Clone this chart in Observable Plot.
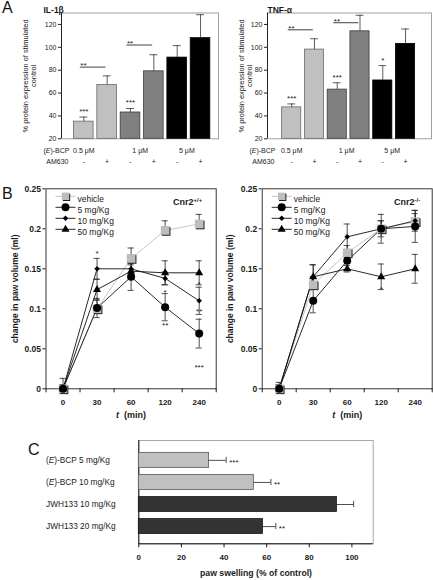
<!DOCTYPE html>
<html><head><meta charset="utf-8">
<script src="https://cdn.jsdelivr.net/npm/d3@7"></script>
<script src="https://cdn.jsdelivr.net/npm/@observablehq/plot@0.6"></script>
<style>
body{margin:0;background:#fff;}
#fig{position:relative;width:433px;height:580px;font-family:'Liberation Sans',Arial,Helvetica,sans-serif;overflow:hidden;background:#fff;}
.pl{position:absolute;}
.pl svg{overflow:visible;display:block;}
.tag{position:absolute;font-size:16px;line-height:1;color:#111;}
</style></head><body>
<div id="fig">
  <div class="pl" id="a1" style="left:0;top:0"></div>
  <div class="pl" id="a2" style="left:220px;top:0"></div>
  <div class="pl" id="b1" style="left:0;top:180px"></div>
  <div class="pl" id="b2" style="left:215px;top:180px"></div>
  <div class="pl" id="c1" style="left:0;top:430px"></div>
  <div class="tag" style="left:2px;top:0px">A</div>
  <div class="tag" style="left:2px;top:186px">B</div>
  <div class="tag" style="left:28px;top:442px">C</div>
</div>
<script>
// ---------- DATA ----------
// Panel A
const concLabels = ["0.5 μM", "1 μM", "5 μM"];
const am630Labels = ["-", "+", "-", "+", "-", "+"];
const aTicks = [20, 40, 60, 80, 100, 120];
const aYLabelLines = ["% protein expression of stimulated", "control"];
const il1bMean = [35, 67, 43, 79, 91, 108];
const il1bErr = [4, 8, 3.5, 14.5, 10.5, 20.5];
const il1bStars = ["***", "", "***", "", "", ""];
const il1bSigLevel = [82.7, 102];
const tnfMean = [47.5, 98, 63, 114, 71, 103];
const tnfErr = [3, 9.5, 6, 14, 13, 13];
const tnfStars = ["***", "", "***", "", "*", ""];
const tnfSigLevel = [115.3, 121.5];
const sigFrom = [0, 2];
const sigTo = [1, 3];
const sigLabels = ["**", "**"];

// Panel B
const times = ["0", "30", "60", "120", "240"];
const doseNames = ["vehicle", "5 mg/Kg", "10 mg/Kg", "50 mg/Kg"];
const bTicks = [0, 0.05, 0.1, 0.15, 0.2, 0.25];
const bYLabel = "change in paw volume (ml)";
const wtVehicle = [0, 0.100, 0.163, 0.198, 0.206];
const wtVehicleErr = [0.013, 0.011, 0.013, 0.012, 0.012];
const wt5 = [0, 0.101, 0.140, 0.102, 0.069];
const wt5Err = [0.005, 0.012, 0.017, 0.017, 0.018];
const wt10 = [0, 0.150, 0.150, 0.138, 0.110];
const wt10Err = [0.005, 0.013, 0.008, 0.008, 0.017];
const wt50 = [0, 0.124, 0.147, 0.145, 0.145];
const wt50Err = [0.005, 0.013, 0.008, 0.015, 0.015];
const wtStarTimes = ["30", "120", "120", "240", "240", "240"];
const wtStarLevels = [0.172, 0.123, 0.082, 0.1325, 0.099, 0.029];
const wtStarText = ["*", "*", "**", "*", "**", "***"];
const koVehicle = [0, 0.130, 0.170, 0.200, 0.209];
const koVehicleErr = [0.008, 0.010, 0.009, 0.010, 0.010];
const ko5 = [0, 0.110, 0.160, 0.200, 0.203];
const ko5Err = [0.005, 0.015, 0.012, 0.018, 0.020];
const ko10 = [0, 0.140, 0.190, 0.200, 0.210];
const ko10Err = [0.005, 0.015, 0.016, 0.010, 0.013];
const ko50 = [0, 0.140, 0.150, 0.140, 0.150];
const ko50Err = [0.005, 0.015, 0.004, 0.016, 0.018];
const koStarTimes = ["120"];
const koStarLevels = [0.127];
const koStarText = ["*"];

// Panel C
const cLabels = ["(E)-BCP 5 mg/Kg", "(E)-BCP 10 mg/Kg", "JWH133 10 mg/Kg", "JWH133 20 mg/Kg"];
const cMean = [33, 54, 93, 58.3];
const cErr = [8, 8, 7.8, 6];
const cStars = ["***", "**", "", "**"];
const cTicks = [0, 20, 40, 60, 80, 100];
const cXLabel = "paw swelling (% of control)";

// ---------- STYLE ----------
const FONT = "'Liberation Sans', Arial, Helvetica, sans-serif";
const aFill = ["#c0c0c0", "#808080", "#000000"];
const aStroke = ["#6a6a6a", "#3c3c3c", "#000000"];
const bStyle = [
  {symbol: "square", r: 4.9, fill: "#bdbdbd", line: "#c6c6c6", lw: 1},
  {symbol: "circle", r: 4, fill: "#000", line: "#111", lw: 0.9},
  {symbol: "diamond2", r: 2.5, fill: "#000", line: "#111", lw: 0.9},
  {symbol: "triangle", r: 3, fill: "#000", line: "#111", lw: 0.9}
];
const legendLine = {draw(ctx) { ctx.moveTo(-10, 0); ctx.lineTo(10, 0); }};

function baseStyle(size) {
  return {fontFamily: FONT, fontSize: size, color: "#1a1a1a", background: "transparent", overflow: "visible"};
}

// ---------- PANEL A ----------
function panelA({title, mean, err, stars, sigLevel, width, marginLeft, xDomain, titleDx, yLabelDx}) {
  const bars = mean.map((m, i) => ({i, m, e: err[i], s: stars[i], am: am630Labels[i], g: Math.floor(i / 2)}));
  const conc = concLabels.map((c, g) => ({c, g, x: d3.mean(bars.filter(b => b.g === g), b => b.i), first: d3.min(bars.filter(b => b.g === g), b => b.i)}));
  const sig = sigLevel.map((y, k) => ({y, from: sigFrom[k], to: sigTo[k], label: sigLabels[k]}));
  return Plot.plot({
    width, height: 170, marginLeft, marginRight: 2, marginTop: 12.5, marginBottom: 31.7,
    style: baseStyle("7px"),
    x: {domain: xDomain, axis: null},
    y: {domain: [20, 130]},
    marks: [
      Plot.frame({stroke: "#a0a0a0", strokeWidth: 1}),
      Plot.ruleX([xDomain[0]], {stroke: "#222", strokeWidth: 1}),
      Plot.axisY({ticks: aTicks, tickSize: 3, tickPadding: 2, label: null, stroke: "#222"}),
      Plot.rectY(bars, {x1: d => d.i - 0.42, x2: d => d.i + 0.42, y1: 20, y2: "m", fill: d => aFill[d.g], stroke: d => aStroke[d.g], strokeWidth: 0.8}),
      Plot.ruleX(bars, {x: "i", y1: "m", y2: d => d.m + d.e, stroke: "#333", strokeWidth: 0.8}),
      Plot.ruleY(bars, {x1: d => d.i - 0.17, x2: d => d.i + 0.17, y: d => d.m + d.e, stroke: "#333", strokeWidth: 0.8}),
      Plot.text(bars.filter(d => d.s), {x: "i", y: d => d.m + d.e, text: "s", lineAnchor: "bottom", dy: -3, fontSize: 8}),
      Plot.ruleY(sig, {x1: d => d.from - 0.15, x2: d => d.to - 0.05, y: "y", stroke: "#111", strokeWidth: 0.8}),
      Plot.text(sig, {x: d => d.from - 0.15, y: "y", text: "label", textAnchor: "start", lineAnchor: "bottom", dy: 1, fontSize: 8}),
      Plot.text(bars, {x: "i", text: "am", frameAnchor: "bottom", dy: 25}),
      Plot.text(conc.filter(d => d.g === 0), {x: "first", text: "c", frameAnchor: "bottom", dy: 14}),
      Plot.text(conc.filter(d => d.g > 0), {x: "x", text: "c", frameAnchor: "bottom", dy: 14, dx: -2}),
      Plot.text(["(E)-BCP"], {text: d => d, frameAnchor: "bottom-left", textAnchor: "end", dx: 8, dy: 14}),
      Plot.text(["AM630"], {text: d => d, frameAnchor: "bottom-left", textAnchor: "end", dx: 7, dy: 25}),
      Plot.text([title], {text: d => d, frameAnchor: "top-left", textAnchor: "start", dx: titleDx, dy: -6, fontWeight: "bold", fontSize: 8.5}),
      Plot.text([aYLabelLines[0]], {text: d => d, frameAnchor: "left", textAnchor: "middle", rotate: -90, dx: yLabelDx, fontSize: 7.4}),
      Plot.text([aYLabelLines[1]], {text: d => d, frameAnchor: "left", textAnchor: "middle", rotate: -90, dx: yLabelDx + 8.3, fontSize: 7.4})
    ]
  });
}

// ---------- PANEL B ----------
function panelB({means, errs, starTimes, starLevels, starText, tag, width, marginLeft, marginRight, yLabelDx, tagDx}) {
  const rows = [];
  doseNames.forEach((name, s) => times.forEach((t, k) => rows.push({s, name, t, k, v: means[s][k], e: errs[s][k]})));
  const stars = starTimes.map((t, j) => ({k: times.indexOf(t), v: starLevels[j], s: starText[j]}));
  const marks = [
    Plot.frame({stroke: "#222", strokeWidth: 0.9}),
    Plot.axisY({ticks: bTicks, tickFormat: d => String(d), tickSize: 3, tickPadding: 2, fontWeight: "bold", fontSize: 8.5, label: null}),
    Plot.axisX({ticks: times.map((t, k) => k), tickFormat: k => times[k], tickSize: 0, tickPadding: 11, fontWeight: "bold", fontSize: 8, label: null}),
    Plot.axisX({ticks: d3.range(times.length + 1).map(k => k - 0.5), tickFormat: () => "", tickSize: 4, label: null})
  ];
  doseNames.forEach((name, s) => {
    marks.push(Plot.line(rows.filter(r => r.s === s), {x: "k", y: "v", stroke: bStyle[s].line, strokeWidth: bStyle[s].lw}));
  });
  marks.push(
    Plot.ruleX(rows, {x: "k", y1: d => d.s === 0 ? d.v : Math.max(0, d.v - d.e), y2: d => d.v + d.e, stroke: "#222", strokeWidth: 0.8}),
    Plot.ruleY(rows, {x1: d => d.k - 0.09, x2: d => d.k + 0.09, y: d => d.v + d.e, stroke: "#222", strokeWidth: 0.8}),
    Plot.ruleY(rows.filter(d => d.s > 0 && d.v - d.e > 0), {x1: d => d.k - 0.09, x2: d => d.k + 0.09, y: d => d.v - d.e, stroke: "#222", strokeWidth: 0.8})
  );
  doseNames.forEach((name, s) => {
    const st = bStyle[s];
    const pts = rows.filter(r => r.s === s);
    if (s === 0) marks.push(Plot.dot(pts, {x: "k", y: "v", symbol: st.symbol, r: st.r, fill: "#222", dx: 1, dy: 1}));
    marks.push(Plot.dot(pts, {x: "k", y: "v", symbol: st.symbol, r: st.r, fill: st.fill, stroke: "none"}));
  });
  marks.push(Plot.text(stars, {x: "k", y: "v", text: "s", lineAnchor: "bottom", dy: 4.5, fontSize: 8}));
  // legend
  doseNames.forEach((name, s) => {
    const st = bStyle[s];
    const dy = 7.5 + s * 11;
    marks.push(Plot.dot([name], {frameAnchor: "top-left", dx: 19.5, dy, symbol: legendLine, stroke: st.line, fill: "none", strokeWidth: st.lw}));
    if (s === 0) marks.push(Plot.dot([name], {frameAnchor: "top-left", dx: 20.5, dy: dy + 1, symbol: st.symbol, r: st.r * 0.85, fill: "#222"}));
    marks.push(Plot.dot([name], {frameAnchor: "top-left", dx: 19.5, dy, symbol: st.symbol, r: s === 0 ? st.r * 0.85 : st.r, fill: st.fill, stroke: "none"}));
    marks.push(Plot.text([name], {text: d => d, frameAnchor: "top-left", textAnchor: "start", dx: 31.5, dy, fontSize: 8.5}));
  });
  marks.push(
    Plot.text([tag], {text: d => d, frameAnchor: "top-right", textAnchor: "end", dx: tagDx, dy: 10, fontWeight: "bold", fontSize: 9}),
    Plot.text([bYLabel], {text: d => d, frameAnchor: "left", textAnchor: "middle", rotate: -90, dx: yLabelDx, fontWeight: "bold", fontSize: 8.5}),
    Plot.text(["t (min)"], {text: d => d, frameAnchor: "bottom", dy: 29, fontWeight: "bold", fontSize: 9})
  );
  return Plot.plot({
    width, height: 250, marginLeft, marginRight, marginTop: 8.3, marginBottom: 41.7,
    style: baseStyle("8px"),
    x: {domain: [-0.5, times.length - 0.5]},
    y: {domain: [0, 0.25]},
    marks
  });
}

// ---------- PANEL C ----------
function panelC() {
  const cData = cLabels.map((label, i) => ({i, label, v: cMean[i], e: cErr[i], s: cStars[i], dark: label.startsWith("JWH133")}));
  const yDom = [-0.9, 3.78];
  return Plot.plot({
    width: 433, height: 150, marginLeft: 138.3, marginRight: 60.3, marginTop: 10, marginBottom: 36.7,
    style: baseStyle("8px"),
    x: {domain: [0, 110]},
    y: {domain: yDom, reverse: true, axis: null},
    marks: [
      Plot.frame({stroke: "#a8a8a8", strokeWidth: 1}),
      Plot.ruleX([0], {stroke: "#111", strokeWidth: 1}),
      Plot.ruleY([yDom[1]], {stroke: "#111", strokeWidth: 1}),
      Plot.rectX(cData, {y1: d => d.i - 0.34, y2: d => d.i + 0.34, x1: 0, x2: "v", fill: d => d.dark ? "#333333" : "#c0c0c0", stroke: d => d.dark ? "#1a1a1a" : "#5a5a5a", strokeWidth: 0.8}),
      Plot.ruleY(cData, {y: "i", x1: "v", x2: d => d.v + d.e, stroke: "#222", strokeWidth: 0.8}),
      Plot.ruleX(cData, {x: d => d.v + d.e, y1: d => d.i - 0.14, y2: d => d.i + 0.14, stroke: "#222", strokeWidth: 0.8}),
      Plot.text(cData, {y: "i", text: "label", frameAnchor: "left", textAnchor: "start", dx: -92.8, fontSize: 8.3}),
      Plot.text(cData.filter(d => d.s), {x: d => d.v + d.e, y: "i", text: "s", textAnchor: "start", dx: 3, dy: 2, fontSize: 8}),
      Plot.axisX({ticks: cTicks, tickSize: 4, tickPadding: 7, fontWeight: "bold", fontSize: 8, label: null}),
      Plot.text([cXLabel], {text: d => d, frameAnchor: "bottom", dy: 32, fontWeight: "bold", fontSize: 8.7})
    ]
  });
}

// ---------- rich text ----------
function richify(svg) {
  d3.select(svg).selectAll("text").each(function() {
    if (this.querySelector("tspan")) return;
    const s = this.textContent;
    const el = d3.select(this);
    if (s.startsWith("(E)-BCP")) {
      this.textContent = "";
      el.append("tspan").text("(");
      el.append("tspan").attr("font-style", "italic").text("E");
      el.append("tspan").text(s.slice(2));
    } else if (s.startsWith("Cnr2") && s.length > 4) {
      this.textContent = "";
      el.append("tspan").text("Cnr2");
      el.append("tspan").attr("baseline-shift", "super").attr("font-size", "6px").text(s.slice(4));
    } else if (s === "t (min)") {
      this.textContent = "";
      el.append("tspan").attr("font-style", "italic").text("t");
      el.append("tspan").text("  (min)");
    }
  });
  return svg;
}

function put(id, svg) { document.getElementById(id).appendChild(richify(svg)); }

put("a1", panelA({title: "IL-1β", mean: il1bMean, err: il1bErr, stars: il1bStars, sigLevel: il1bSigLevel, width: 220, marginLeft: 61, xDomain: [-0.956, 5.77], titleDx: -18, yLabelDx: -36}));
put("a2", panelA({title: "TNF-α", mean: tnfMean, err: tnfErr, stars: tnfStars, sigLevel: tnfSigLevel, width: 213, marginLeft: 47, xDomain: [-1.063, 6.14], titleDx: 0, yLabelDx: -26}));
put("b1", panelB({means: [wtVehicle, wt5, wt10, wt50], errs: [wtVehicleErr, wt5Err, wt10Err, wt50Err], starTimes: wtStarTimes, starLevels: wtStarLevels, starText: wtStarText, tag: "Cnr2+/+", width: 220, marginLeft: 45.5, marginRight: 4.3, yLabelDx: -30.5, tagDx: -14}));
put("b2", panelB({means: [koVehicle, ko5, ko10, ko50], errs: [koVehicleErr, ko5Err, ko10Err, ko50Err], starTimes: koStarTimes, starLevels: koStarLevels, starText: koStarText, tag: "Cnr2-/-", width: 218, marginLeft: 46.7, marginRight: 1.3, yLabelDx: -31.7, tagDx: -12}));
put("c1", panelC());
</script>
</body></html>
